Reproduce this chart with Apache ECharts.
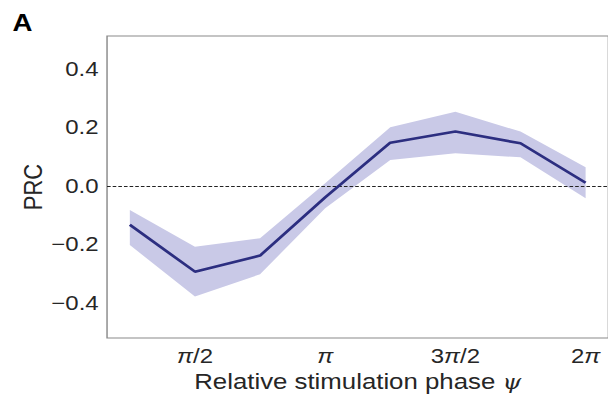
<!DOCTYPE html>
<html>
<head>
<meta charset="utf-8">
<script src="https://cdn.jsdelivr.net/npm/echarts@6/dist/echarts.min.js"></script>
<style>
html,body{margin:0;padding:0;background:#fff;overflow:hidden}
#wrap{width:608px;height:402px;overflow:hidden;position:relative}
#c{width:506.67px;height:402px;transform:scaleX(1.2);transform-origin:0 0;position:absolute;left:0;top:0}
</style>
</head>
<body>
<div id="wrap"><div id="c"></div></div>
<script>
// phase in units of pi/4
const phases = [1, 2, 3, 4, 5, 6, 7, 8];
const prcMean  = [-0.133, -0.293, -0.238, -0.039, 0.148, 0.186, 0.146, 0.011];
const prcUpper = [-0.082, -0.208, -0.179,  0.009, 0.201, 0.254, 0.186, 0.064];
const prcLower = [-0.202, -0.378, -0.302, -0.076, 0.089, 0.112, 0.098, -0.042];
const xTickValues = [2, 4, 6, 8];
const xTickLabels = ['π/2', 'π', '3π/2', '2π'];
const yTickValues = [-0.4, -0.2, 0.0, 0.2, 0.4];

const FONT = "'Liberation Sans', Arial, Helvetica, sans-serif";
const chart = echarts.init(document.getElementById('c'), null, {renderer: 'svg'});

const bandData = phases.map((p, i) => [p, prcLower[i], prcUpper[i]]);
const meanData = phases.map((p, i) => [p, prcMean[i]]);

function xLabelRich(v) {
  const i = xTickValues.indexOf(v);
  if (i < 0) return '';
  return xTickLabels[i].split('π').join('{p|π}');
}

chart.setOption({
  animation: false,
  backgroundColor: '#fff',
  title: {
    text: 'A', left: 10.5, top: 11, padding: 0,
    textStyle: {fontFamily: FONT, fontWeight: 'bold', fontSize: 23, color: '#000'}
  },
  grid: {
    left: 89.2, top: 36, width: 421.7, bottom: 64,
    show: true, borderColor: '#8a8a8a', borderWidth: 1.2, backgroundColor: 'transparent'
  },
  xAxis: {
    type: 'value', min: 0.65, max: 8.35,
    axisLine: {show: false}, axisTick: {show: false}, splitLine: {show: false},
    axisLabel: {
      customValues: xTickValues,
      formatter: xLabelRich,
      margin: 8,
      fontFamily: FONT, fontSize: 20, color: '#262626',
      rich: {p: {fontStyle: 'italic', fontFamily: FONT, fontSize: 20, color: '#262626'}}
    },
    name: 'Relative stimulation phase {psi|ψ}',
    nameLocation: 'middle', nameGap: 31,
    nameTextStyle: {
      fontFamily: FONT, fontSize: 21.5, color: '#262626',
      rich: {psi: {fontFamily: "'DejaVu Serif', serif", fontStyle: 'italic', fontSize: 20, color: '#262626'}}
    }
  },
  yAxis: {
    type: 'value', min: -0.52, max: 0.513,
    axisLine: {show: false}, axisTick: {show: false}, splitLine: {show: false},
    axisLabel: {
      customValues: yTickValues,
      formatter: v => (v < 0 ? '\u2212' : '') + Math.abs(v).toFixed(1),
      margin: 7,
      fontFamily: FONT, fontSize: 20, color: '#262626'
    },
    name: 'PRC', nameLocation: 'middle', nameGap: 51, nameRotate: 90,
    nameMoveOverlap: false,
    nameTextStyle: {fontFamily: FONT, fontSize: 22, color: '#262626'}
  },
  series: [
    {
      type: 'custom', data: bandData, silent: true, z: 1,
      encode: {x: 0, y: [1, 2]},
      renderItem: function (params, api) {
        if (params.dataIndex !== 0) return null;
        const pts = [];
        for (let i = 0; i < phases.length; i++) pts.push(api.coord([phases[i], prcUpper[i]]));
        for (let i = phases.length - 1; i >= 0; i--) pts.push(api.coord([phases[i], prcLower[i]]));
        return {type: 'polygon', shape: {points: pts}, style: {fill: '#c9c9e7'}};
      }
    },
    {
      type: 'line', data: meanData, symbol: 'none',
      lineStyle: {color: '#2c2e80', width: 2.6}, z: 5,
      markLine: {
        silent: true, symbol: 'none', label: {show: false},
        lineStyle: {color: '#222', width: 1, type: [3, 1.7]},
        data: [{yAxis: 0}]
      }
    }
  ]
});
</script>
</body>
</html>
